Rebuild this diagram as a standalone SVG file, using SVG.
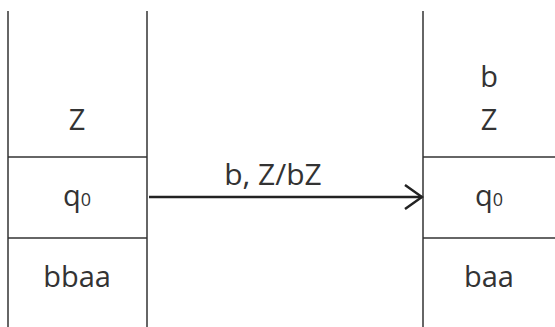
<svg xmlns="http://www.w3.org/2000/svg" width="555" height="327" viewBox="0 0 555 327">
<style>
.ln{stroke:#333;stroke-width:1.5;fill:none}
.t{font-family:"Open Sans","Liberation Sans",sans-serif;font-size:29px;fill:#333;text-anchor:middle}
.sub{font-size:18px}
</style>
<defs>
<marker id="ah" markerWidth="20" markerHeight="26" refX="18" refY="13" orient="auto" markerUnits="userSpaceOnUse">
<path d="M1,1 L18,13 L1,25" fill="none" stroke="#222" stroke-width="2.5"/>
</marker>
</defs>
<rect width="555" height="327" fill="#fff"/>
<g id="left">
<line class="ln" x1="8" y1="11" x2="8" y2="327"/>
<line class="ln" x1="147" y1="11" x2="147" y2="327"/>
<line class="ln" x1="8" y1="157" x2="147" y2="157"/>
<line class="ln" x1="8" y1="238" x2="147" y2="238"/>
<text class="t" x="77" y="130">Z</text>
<text class="t" x="77" y="206">q<tspan class="sub">0</tspan></text>
<text class="t" x="77" y="287">bbaa</text>
</g>
<g id="right">
<line class="ln" x1="423" y1="11" x2="423" y2="327"/>
<line class="ln" x1="423" y1="157" x2="555" y2="157"/>
<line class="ln" x1="423" y1="238" x2="555" y2="238"/>
<text class="t" x="489" y="87">b</text>
<text class="t" x="489" y="130">Z</text>
<text class="t" x="489" y="206">q<tspan class="sub">0</tspan></text>
<text class="t" x="489" y="287">baa</text>
</g>
<g id="connectors">
<line x1="149" y1="197" x2="422" y2="197" stroke="#222" stroke-width="2.5" marker-end="url(#ah)"/>
<text class="t" x="273" y="185" style="font-size:30px">b, Z/bZ</text>
</g>
</svg>
